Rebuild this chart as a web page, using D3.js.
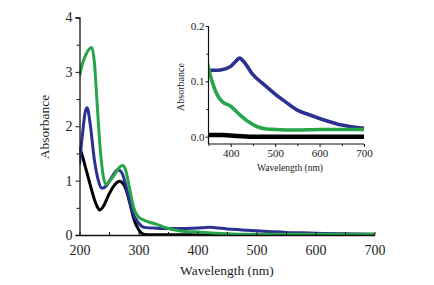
<!DOCTYPE html>
<html><head><meta charset="utf-8">
<script src="https://cdn.jsdelivr.net/npm/d3@7"></script>
<style>body{margin:0;background:#fff}svg{display:block}
svg text{font-family:'Liberation Serif','Times New Roman',serif !important}</style>
</head><body>
<script>
// Wavelengths (nm) and absorbance values per series
const blackWl  = [200,205,210,215,220,225,230,234,240,250,260,268,275,280,285,292,300,310,320,350,380,400,450,500,600,700];
const blackAbs = [1.62,1.45,1.25,1.05,0.85,0.66,0.52,0.46,0.52,0.75,0.93,0.99,0.93,0.8,0.6,0.3,0.1,0.01,0.003,0.003,0.003,0.002,0.0,0.0,0.0,0.0];
const blueWl   = [200,205,210,213,218,225,232,238,245,255,265,272,280,290,300,310,330,350,365,380,400,410,420,430,450,475,500,525,550,575,600,650,700];
const blueAbs  = [1.3,1.85,2.28,2.34,2.05,1.4,1.0,0.86,0.9,1.07,1.2,1.14,0.85,0.42,0.22,0.14,0.125,0.12,0.12,0.121,0.127,0.135,0.142,0.135,0.112,0.094,0.077,0.062,0.048,0.04,0.033,0.021,0.015];
const greenWl  = [200,205,210,215,221,225,230,235,240,245,252,260,268,273,278,285,292,300,310,320,330,340,350,360,370,380,400,420,440,460,480,500,550,600,650,700];
const greenAbs = [2.92,3.15,3.3,3.4,3.45,3.2,2.4,1.6,1.1,0.93,1.0,1.12,1.25,1.28,1.2,0.85,0.5,0.33,0.27,0.23,0.2,0.16,0.124,0.095,0.075,0.064,0.055,0.04,0.027,0.018,0.014,0.013,0.012,0.013,0.013,0.013];
const mainXTicks = [200,300,400,500,600,700];
const mainYTicks = [0,1,2,3,4];
const insetXTicks = [400,500,600,700];
const insetYTicks = [0.0,0.1,0.2];

const series = [
  {wl: blackWl, abs: blackAbs, color: "#000000"},
  {wl: blueWl,  abs: blueAbs,  color: "#2b3190"},
  {wl: greenWl, abs: greenAbs, color: "#27a54a"}
];

const svg = d3.select("body").append("svg").attr("width",434).attr("height",285);

// ---------- main chart ----------
const x = d3.scaleLinear().domain([200,700]).range([79.5,374.5]);
const y = d3.scaleLinear().domain([0,4]).range([235,17.5]);

svg.append("clipPath").attr("id","mc").append("rect")
  .attr("x",79.5).attr("y",10).attr("width",300).attr("height",226);

const line = d3.line().x(d=>x(d[0])).y(d=>y(d[1])).curve(d3.curveMonotoneX);
const gMain = svg.append("g").attr("clip-path","url(#mc)");
series.forEach(s=>{
  gMain.append("path").datum(s.wl.map((w,i)=>[w,s.abs[i]]))
    .attr("d",line).attr("fill","none").attr("stroke",s.color)
    .attr("stroke-width",3).attr("stroke-linejoin","round");
});

const xAxis = svg.append("g").attr("transform","translate(0,235)")
  .call(d3.axisBottom(x).tickValues(mainXTicks).tickSize(0).tickPadding(10).tickFormat(d3.format("d")));
svg.append("g").attr("transform","translate(0,235)")
  .call(d3.axisTop(x).tickValues(d3.range(200,701,50)).tickSize(3).tickFormat(""))
  .call(g=>g.select(".domain").remove());
const yAxis = svg.append("g").attr("transform","translate(79.5,0)")
  .call(d3.axisLeft(y).tickValues(mainYTicks).tickSize(4).tickPadding(3).tickFormat(d3.format("d")));
svg.append("g").attr("transform","translate(79.5,0)")
  .call(d3.axisLeft(y).tickValues(d3.range(0.5,4,1)).tickSize(3).tickFormat(""))
  .call(g=>g.select(".domain").remove());
[xAxis,yAxis].forEach(g=>{
  g.select(".domain").attr("stroke","#111").attr("stroke-width",1.3);
  g.selectAll("text").attr("font-size",14).attr("fill","#222");
});

svg.append("text").attr("x",227).attr("y",275).attr("text-anchor","middle")
  .attr("font-size",13.5).attr("fill","#222").text("Wavelength (nm)");
svg.append("text").attr("transform","translate(49,127) rotate(-90)").attr("text-anchor","middle")
  .attr("font-size",13.5).attr("fill","#222").text("Absorbance");

// ---------- inset ----------
const xi = d3.scaleLinear().domain([350,700]).range([208.5,364]);
const yi = d3.scaleLinear().domain([-0.0132,0.2]).range([144,26]);

svg.append("clipPath").attr("id","ic").append("rect")
  .attr("x",208.5).attr("y",20).attr("width",158).attr("height",124);
const linei = d3.line().x(d=>xi(d[0])).y(d=>yi(d[1])).curve(d3.curveMonotoneX);
const gIn = svg.append("g").attr("clip-path","url(#ic)");
series.forEach((s,k)=>{
  const pts = s.wl.map((w,i)=>[w,s.abs[i]]).filter(d=>d[0]>=340);
  gIn.append("path").datum(pts)
    .attr("d",linei).attr("fill","none").attr("stroke",s.color)
    .attr("stroke-width",k===0?4.5:3.6).attr("stroke-linejoin","round");
});

const xiAxis = svg.append("g").attr("transform","translate(0,144)")
  .call(d3.axisBottom(xi).tickValues(insetXTicks).tickSize(3).tickPadding(2).tickFormat(d3.format("d")));
svg.append("g").attr("transform","translate(0,144)")
  .call(d3.axisBottom(xi).tickValues(d3.range(350,701,50).filter(v=>v%100!==0)).tickSize(2).tickFormat(""))
  .call(g=>g.select(".domain").remove());
const yiAxis = svg.append("g").attr("transform","translate(208.5,0)")
  .call(d3.axisLeft(yi).tickValues(insetYTicks).tickSize(3).tickPadding(1).tickFormat(d3.format(".1f")));
svg.append("g").attr("transform","translate(208.5,0)")
  .call(d3.axisLeft(yi).tickValues([0.05,0.15]).tickSize(2).tickFormat(""))
  .call(g=>g.select(".domain").remove());
[xiAxis,yiAxis].forEach(g=>{
  g.select(".domain").attr("stroke","#111").attr("stroke-width",1.2);
  g.selectAll("text").attr("font-size",11).attr("fill","#222");
});
xiAxis.select(".domain").attr("d","M208.5,0H364");
yiAxis.select(".domain").attr("d","M0,26V144");
svg.selectAll(".tick line").attr("stroke","#111");

svg.append("text").attr("x",290).attr("y",171).attr("text-anchor","middle")
  .attr("font-size",9.5).attr("fill","#222").text("Wavelength (nm)");
svg.append("text").attr("transform","translate(184,87) rotate(-90)").attr("text-anchor","middle")
  .attr("font-size",10).attr("fill","#222").text("Absorbance");
</script>
</body></html>
